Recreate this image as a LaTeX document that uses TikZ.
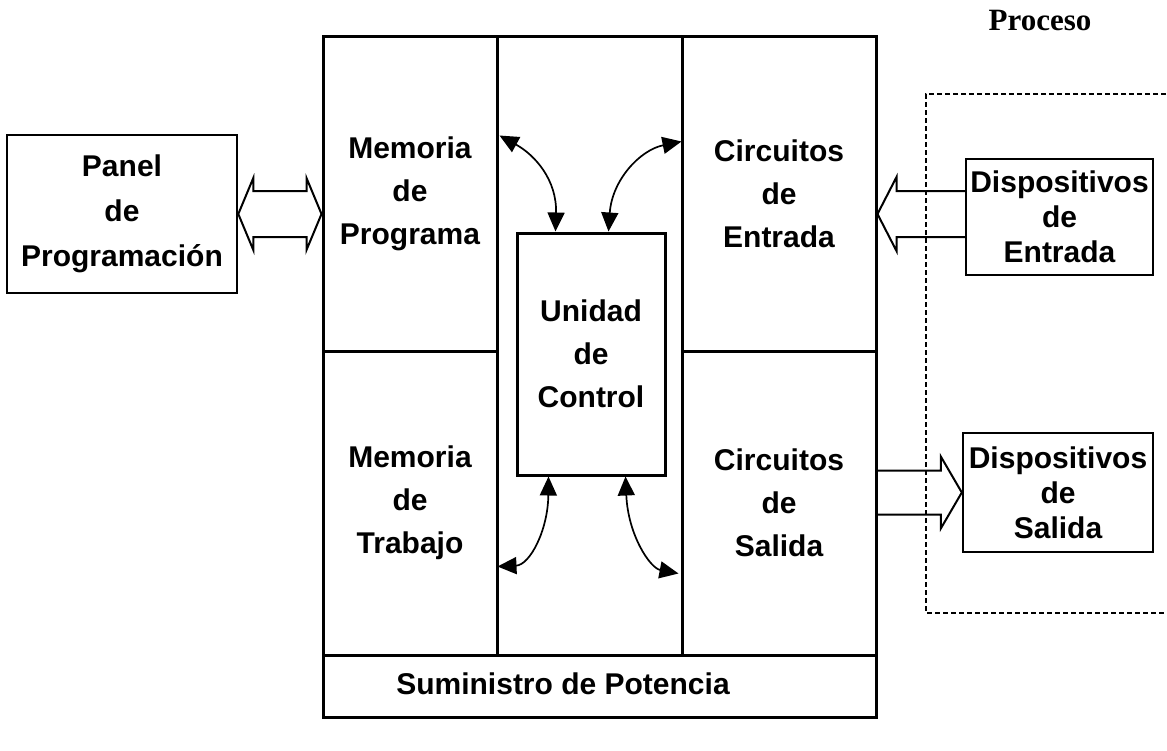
\documentclass[tikz,border=0pt]{standalone}
\usepackage{fontspec}
\setmainfont{Liberation Sans}
\newfontfamily\procfont{Liberation Serif}
\usetikzlibrary{arrows.meta,calc}
\begin{document}
\begin{tikzpicture}[x=1pt,y=-1pt,
  cell/.style={draw, line width=3pt, inner sep=0pt, align=center,
    font=\fontsize{30}{43}\selectfont\bfseries},
  panelbox/.style={draw, line width=2.6pt, inner sep=0pt, align=center,
    font=\fontsize{30}{45}\selectfont\bfseries},
  dev/.style={draw, line width=2.4pt, inner sep=0pt, align=center,
    font=\fontsize{30}{35}\selectfont\bfseries},
  txt/.style={inner sep=0pt, font=\fontsize{30}{36}\selectfont\bfseries},
  barrow/.style={line width=2pt, line join=miter},
  curv/.style={line width=1.7pt,
    {Triangle[length=19pt,width=17pt]}-{Triangle[length=19pt,width=17pt]}},
  procline/.style={line width=1.3pt, dash pattern=on 5pt off 3pt}]
\useasboundingbox (0,0) rectangle (1167,750);

% main block cells
\node[cell, minimum width=174pt, minimum height=315pt] (memprog) at (410,193.5) {Memoria\\de\\Programa};
\node[cell, minimum width=174pt, minimum height=304pt] (memtrab) at (410,503) {Memoria\\de\\Trabajo};
\node[cell, minimum width=185pt, minimum height=619pt] (mid) at (589.5,345.5) {};
\node[cell, minimum width=194pt, minimum height=315pt] (circent) at (779,193.5) {Circuitos\\de\\Entrada};
\node[cell, minimum width=194pt, minimum height=304pt] (circsal) at (779,503) {Circuitos\\de\\Salida};
\node[cell, minimum width=553pt, minimum height=62pt] (sumin) at (599.5,686) {};
\node[txt] (sumint) at (563,684) {Suministro de Potencia};
\node[cell, minimum width=148pt, minimum height=242pt] (unidad) at (591,354) {Unidad\\de\\Control};

% outside boxes
\node[panelbox, minimum width=230pt, minimum height=158pt] (panel) at (122,214) {Panel\\de\\Programación};
\node[dev, minimum width=187pt, minimum height=116pt] (dente) at (1059.5,217) {Dispositivos\\de\\Entrada};
\node[dev, minimum width=190pt, minimum height=119pt] (dsal) at (1058,492.5) {Dispositivos\\de\\Salida};

% process label and dashed region
\node[font=\procfont\bfseries\fontsize{31}{32}\selectfont, inner sep=0pt] (proc) at (1040,20) {Proceso};
\coordinate (pA) at (1166,94);
\coordinate (pB) at (926,94);
\coordinate (pC) at (926,613);
\coordinate (pD) at (1166,613);
\draw[procline] (pA) -- (pB) -- (pC) -- (pD);

% double block arrow panel <-> memory
\coordinate (A) at (panel.east);
\coordinate (B) at (panel.east -| memprog.west);
\draw[barrow] (A) -- ++(15,-36) -- ++(0,13) -- ($(B)+(-15,-23)$) -- ++(0,-13)
  -- (B) -- ++(-15,36) -- ++(0,-13) -- ($(A)+(15,23)$) -- ++(0,13) -- cycle;

% input block arrow
\coordinate (C) at ($(dente.west)+(0,-3)$);
\coordinate (T) at (C -| circent.east);
\draw[barrow] ($(C)+(0,-23)$) -- ($(T)+(19,-23)$) -- ++(0,-14) -- (T)
  -- ++(19,37) -- ++(0,-14) -- ($(C)+(0,23)$);

% output block arrow
\coordinate (S) at (dsal.west -| circsal.east);
\draw[barrow] ($(S)+(0,-22)$) -- ($(dsal.west)+(-21,-22)$) -- ++(0,-14) -- (dsal.west)
  -- ++(-21,36) -- ++(0,-14) -- ($(S)+(0,22)$);

% curved double arrows
\draw[curv] ($(memprog.north east)+(1,101)$) .. controls (535,155) and (557,180) .. ($(unidad.north west)+(40,0)$);
\draw[curv] ($(circent.north west)+(1,107)$) .. controls (640,150) and (612,180) .. ($(unidad.north west)+(93,0)$);
\draw[curv] ($(unidad.south west)+(33,0)$) .. controls (548,530) and (530,565) .. ($(memtrab.north east)+(-1,217)$);
\draw[curv] ($(unidad.south west)+(110,0)$) .. controls (628,535) and (650,568) .. ($(circsal.north west)+(-2,224)$);
\end{tikzpicture}
\end{document}
